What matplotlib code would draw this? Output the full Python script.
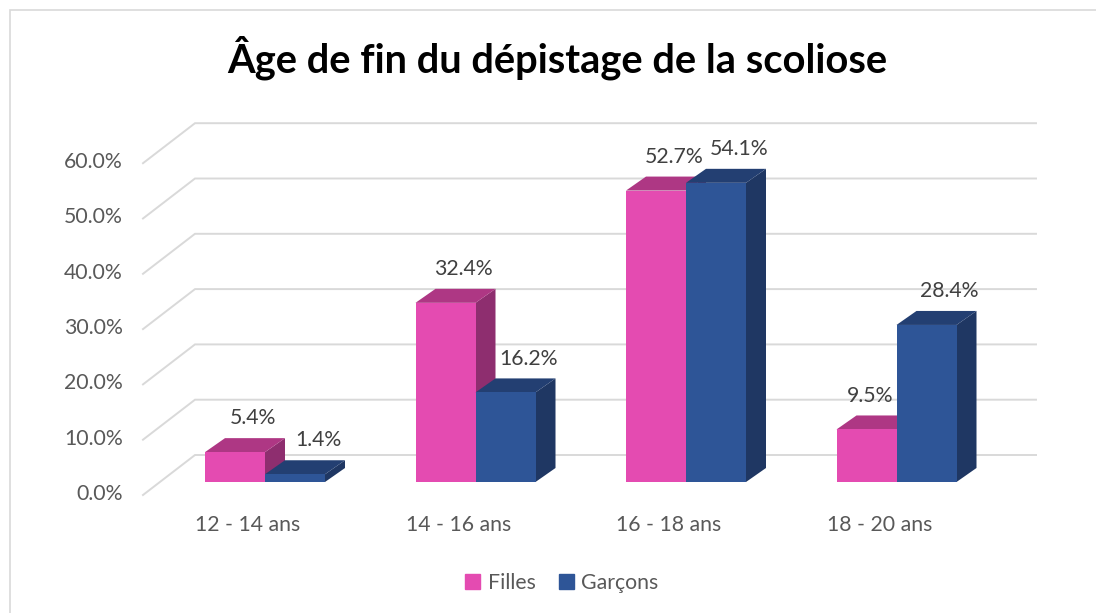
import matplotlib
matplotlib.use("Agg")
import matplotlib.pyplot as plt
from matplotlib.patches import Polygon, Rectangle, Patch

categories = ["12 - 14 ans", "14 - 16 ans", "16 - 18 ans", "18 - 20 ans"]
series = ["Filles", "Garçons"]
filles = [5.4, 32.4, 52.7, 9.5]
garcons = [1.4, 16.2, 54.1, 28.4]
yticks = [0, 10, 20, 30, 40, 50, 60]
title = "Âge de fin du dépistage de la scoliose"

# front / top / side colours of the fake 3d bars
colors = {
    "Filles": ("#E44BB1", "#AE3784", "#8E2E6F"),
    "Garçons": ("#2E5597", "#233F72", "#1F3763"),
}
grid_col = "#D9D9D9"
text_col = "#595959"
font = "Lato"
fs = 15.3

W, H, DPI = 1096, 613, 100
# pixel scale: one category = 210.5 px, 1 % = 5.53 px, bar baseline at y=482 px
px_cat, px_pct, x0_px, y0_px = 210.5, 5.53, 265, 482

bar_w = 60 / px_cat
bar_dx, bar_dy = 20 / px_cat, 14 / px_pct      # bar depth
back_dx, back_dy = 35 / px_cat, 27 / px_pct    # back wall offset
front_dx, front_dy = -17 / px_cat, -13 / px_pct  # front floor edge offset
wall_right = (1036 - x0_px) / px_cat

fig = plt.figure(figsize=(W / DPI, H / DPI), dpi=DPI)
ax = fig.add_axes([0, 0, 1, 1])
ax.set_xlim(-x0_px / px_cat, (W - x0_px) / px_cat)
ax.set_ylim((y0_px - H) / px_pct, y0_px / px_pct)
ax.axis("off")

# gridlines: diagonal on the side wall + horizontal on the back wall
x_front_left = -0.5796
x_wall_left = x_front_left + back_dx - front_dx
for v in yticks:
    ax.plot([x_front_left, x_wall_left, wall_right],
            [v + front_dy, v + back_dy, v + back_dy],
            color=grid_col, lw=1.4, zorder=1, solid_joinstyle="miter")
    ax.text(-0.6746, v + front_dy + 0.2, f"{v:.1f}%", ha="right", va="center",
            fontsize=fs, color=text_col, family=font)

for i, c in enumerate(categories):
    ax.text(i + front_dx, (y0_px - 525) / px_pct, c, ha="center", va="center",
            fontsize=fs, color=text_col, family=font)


def draw_bar(xc, v, cols, z):
    x1, x2 = xc - bar_w / 2, xc + bar_w / 2
    front, top, side = cols
    ax.add_patch(Polygon([(x2, 0), (x2 + bar_dx, bar_dy), (x2 + bar_dx, v + bar_dy), (x2, v)],
                         closed=True, fc=side, ec="none", zorder=z))
    ax.add_patch(Polygon([(x1, v), (x1 + bar_dx, v + bar_dy), (x2 + bar_dx, v + bar_dy), (x2, v)],
                         closed=True, fc=top, ec="none", zorder=z))
    ax.bar(xc, v, width=bar_w, color=front, zorder=z, linewidth=0)


label_dx = {"Filles": 0.085, "Garçons": 0.11}
nudge = {(3, "Filles"): -0.07}
for i in range(len(categories)):
    for k, (name, vals) in enumerate(zip(series, [filles, garcons])):
        xc = i + (k - 0.5) * bar_w
        draw_bar(xc, vals[i], colors[name], 2 + k + i * 2)
        ax.text(xc + label_dx[name] + nudge.get((i, name), 0),
                vals[i] + bar_dy + 3.6, f"{vals[i]:.1f}%",
                ha="center", va="center", fontsize=fs, color="#404040",
                family=font, zorder=20)

fig.text(557 / W, 1 - 72 / H, title, ha="center", va="baseline",
         fontsize=28.7, fontweight="bold", color="black", family=font)

handles = [Patch(color=colors[s][0]) for s in series]
leg = fig.legend(handles, series, loc="center", bbox_to_anchor=(562 / W, 1 - 583 / H),
                 ncol=2, frameon=False, handlelength=0.7, handleheight=0.7,
                 handletextpad=0.35, columnspacing=1.1,
                 prop={"family": font, "size": fs})
for t in leg.get_texts():
    t.set_color(text_col)

# chart area border (only top/left visible in the crop)
fig.add_artist(Rectangle((9.5 / W, -0.1), 1.2, 1.1 - 9.5 / H, transform=fig.transFigure,
                         fill=False, ec=grid_col, lw=1.2))

fig.savefig("out.png", dpi=DPI, facecolor="white")
